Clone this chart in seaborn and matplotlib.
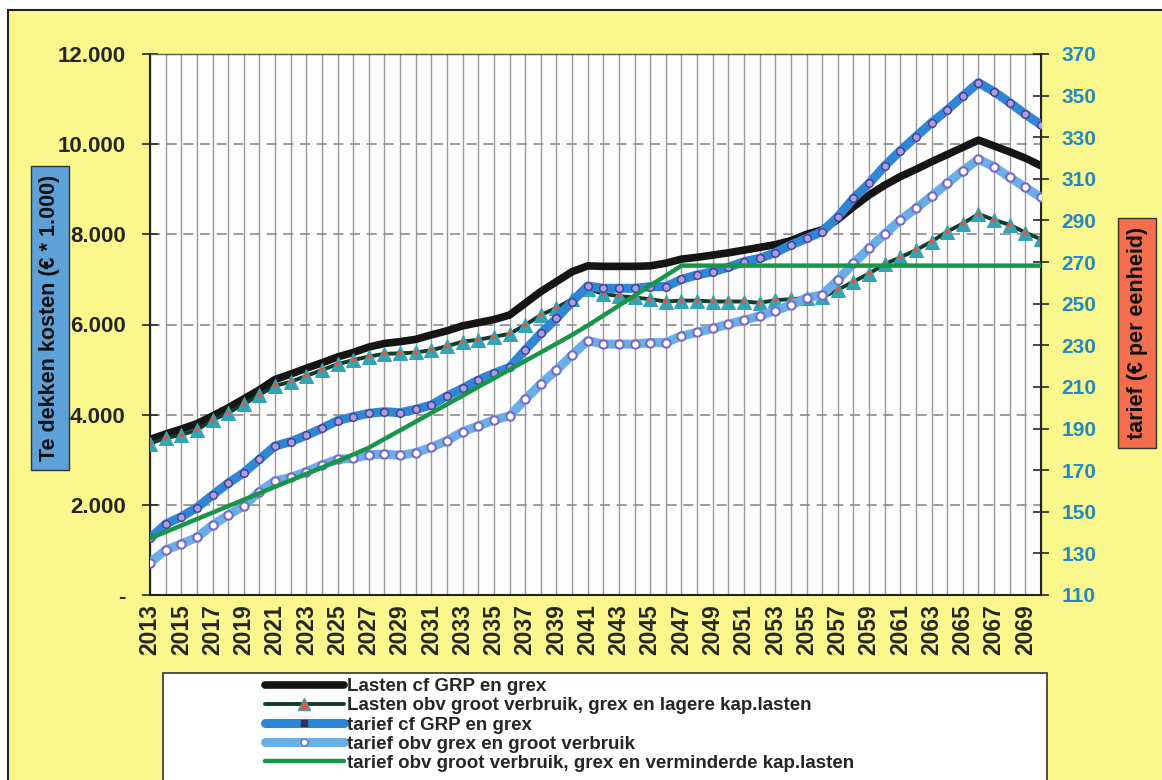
import matplotlib
matplotlib.use('Agg')
import matplotlib.pyplot as plt
from matplotlib.lines import Line2D
from matplotlib.patches import Rectangle
from matplotlib.ticker import FuncFormatter, MultipleLocator
import seaborn as sns
import pandas as pd

sns.set_style('white')
plt.rcParams['font.family'] = ['Liberation Sans', 'DejaVu Sans']
plt.rcParams['font.weight'] = 'bold'

# jaren (categorie-as)
jaren = list(range(2013, 2071))

# linker as: kosten (x 1.000 euro)
lasten_grp = [3450, 3570, 3680, 3800, 3970, 4150, 4350, 4550, 4780, 4900,
              5030, 5150, 5280, 5380, 5500, 5580, 5620, 5670, 5770, 5860,
              5970, 6040, 6110, 6210, 6470, 6730, 6950, 7170, 7300, 7290,
              7290, 7290, 7300, 7360, 7450, 7490, 7540, 7590, 7650, 7710,
              7770, 7860, 8000, 8100, 8330, 8610, 8870, 9090, 9280, 9440,
              9610, 9770, 9930, 10090, 9960, 9830, 9690, 9520]
lasten_groot = [3360, 3480, 3550, 3660, 3880, 4040, 4230, 4440, 4640, 4730,
                4860, 4990, 5120, 5210, 5290, 5350, 5360, 5380, 5430, 5520,
                5620, 5660, 5730, 5790, 5990, 6210, 6370, 6560, 6790, 6680,
                6630, 6600, 6560, 6510, 6530, 6530, 6510, 6510, 6510, 6480,
                6540, 6560, 6590, 6600, 6770, 6950, 7130, 7340, 7490, 7650,
                7840, 8060, 8240, 8450, 8320, 8210, 8040, 7890]

# rechter as: tarief (euro per eenheid)
tarief_grp = [137.2, 144.1, 147.6, 152.0, 158.0, 163.7, 168.8, 175.2, 181.6, 183.7,
              186.7, 190.1, 193.8, 195.7, 197.3, 198.1, 197.6, 199.2, 201.3, 205.6,
              209.3, 213.3, 216.5, 219.4, 227.7, 235.7, 242.9, 251.0, 258.5, 257.4,
              257.4, 257.4, 258.2, 258.2, 261.7, 263.8, 265.4, 267.5, 270.2, 271.8,
              274.5, 278.2, 281.4, 284.6, 291.8, 300.6, 307.8, 316.2, 323.5, 330.3,
              337.0, 343.1, 349.8, 356.2, 351.9, 346.6, 341.1, 335.9]
tarief_grex = [125.5, 131.6, 134.5, 137.7, 143.6, 148.4, 152.8, 159.7, 164.9, 166.5,
               169.3, 172.5, 175.2, 175.7, 177.3, 177.8, 177.1, 178.4, 181.0, 184.2,
               188.5, 191.2, 194.1, 196.0, 204.0, 211.4, 218.1, 225.3, 232.2, 230.6,
               230.6, 230.6, 231.3, 231.3, 234.5, 236.2, 238.1, 240.2, 242.1, 244.1,
               246.6, 249.4, 252.8, 254.2, 261.4, 269.4, 276.6, 283.5, 290.2, 295.8,
               301.7, 307.8, 313.9, 319.4, 315.8, 310.7, 305.9, 301.1]
tarief_verm = [137.2, 140.3, 143.4, 146.5, 149.6, 152.7, 155.8, 158.9, 162.0, 165.1,
               168.2, 171.3, 174.4, 177.5, 180.8, 185.0, 189.1, 193.3, 197.5, 201.6,
               205.8, 210.0, 214.1, 218.3, 222.5, 226.6, 230.8, 235.0, 239.5, 244.3,
               249.1, 253.9, 258.7, 263.5, 268.3, 268.3, 268.3, 268.3, 268.3, 268.3,
               268.3, 268.3, 268.3, 268.3, 268.3, 268.3, 268.3, 268.3, 268.3, 268.3,
               268.3, 268.3, 268.3, 268.3, 268.3, 268.3, 268.3, 268.3]

tarief_ticks = [110, 130, 150, 170, 190, 210, 230, 250, 270, 290, 310, 330, 350, 370]

labels = ['Lasten cf GRP en grex',
          'Lasten obv groot verbruik, grex en lagere kap.lasten',
          'tarief cf GRP en grex',
          'tarief obv grex en groot verbruik',
          'tarief obv groot verbruik, grex en verminderde kap.lasten']

df = pd.DataFrame({'jaar': jaren, 'lasten_grp': lasten_grp, 'lasten_groot': lasten_groot,
                   'tarief_grp': tarief_grp, 'tarief_grex': tarief_grex,
                   'tarief_verm': tarief_verm})

geel = '#faf78c'
zwart = '#151515'
donker = '#143a28'
teal = '#35a3b3'
rood = '#e4553c'
blauw = '#2f86d6'
lichtblauw = '#6aaee8'
groen = '#17964a'
asblauw = '#2389c4'

fig = plt.figure(figsize=(11.62, 7.80), dpi=100)
fig.patch.set_facecolor('white')
achtergrond = Rectangle((8 / 1162, -0.1), 1.0, 1.1 - 10 / 780, transform=fig.transFigure,
                        facecolor=geel, edgecolor='#222222', lw=1.5, zorder=-10)
fig.patches.append(achtergrond)

ax = fig.add_axes([150 / 1162, 1 - 595 / 780, 891 / 1162, 541 / 780])
ax.set_facecolor('#fdfdfd')
ax2 = ax.twinx()

# lasten op linker as
sns.lineplot(data=df, x='jaar', y='lasten_grp', ax=ax, color=zwart, lw=5.5, zorder=3)
sns.lineplot(data=df, x='jaar', y='lasten_groot', ax=ax, color=donker, lw=2.8, zorder=4,
             marker='^', markersize=9.5, markerfacecolor=teal, markeredgecolor=teal)
sns.scatterplot(data=df, x='jaar', y='lasten_groot', ax=ax, color=rood, s=10,
                edgecolor='none', zorder=5)

# tarieven op rechter as
sns.lineplot(data=df, x='jaar', y='tarief_grp', ax=ax2, color=blauw, lw=6.5, zorder=3,
             marker='o', markersize=5.5, markerfacecolor='#a89ee0', markeredgecolor='#4a3a8a',
             markeredgewidth=1.0)
sns.lineplot(data=df, x='jaar', y='tarief_grex', ax=ax2, color=lichtblauw, lw=6.5, zorder=4,
             marker='o', markersize=6, markerfacecolor='white', markeredgecolor='#7a68c8',
             markeredgewidth=1.5)
sns.lineplot(data=df, x='jaar', y='tarief_verm', ax=ax2, color=groen, lw=3.2, zorder=5)

# assen
ax.set_xlim(2013, 2070)
ax.set_ylim(0, 12000)
ax2.set_ylim(110, 370)
ax.set_xlabel('')
ax.set_ylabel('')
ax2.set_ylabel('')

ax.yaxis.set_major_locator(MultipleLocator(2000))
ax.yaxis.set_major_formatter(FuncFormatter(lambda v, p: '-' if v == 0 else f'{v:,.0f}'.replace(',', '.')))
ax2.set_yticks(tarief_ticks)

ax.set_xticks(jaren)
ax.set_xticklabels([str(j) if j % 2 == 1 else '' for j in jaren], rotation=90,
                   fontsize=16.5, fontweight='bold')
ax.tick_params(axis='x', direction='inout', length=9, width=1.2, pad=2)
ax.tick_params(axis='y', direction='inout', length=11, width=1.2, labelsize=16, pad=12)
ax2.tick_params(axis='y', direction='inout', length=11, width=1.2, labelsize=15,
                labelcolor=asblauw, pad=9)
for t in ax.get_yticklabels():
    t.set_fontweight('bold')
for t in ax2.get_yticklabels():
    t.set_fontweight('bold')

ax.grid(axis='x', color='#9a9a9a', lw=1.0, zorder=1)
ax.grid(axis='y', color='#8c8c8c', lw=1.2, ls=(0, (6, 4)), zorder=1)
ax.set_axisbelow(True)

for s in ['left', 'bottom']:
    ax.spines[s].set_color('#222222')
    ax.spines[s].set_linewidth(1.5)
ax.spines['top'].set_color('#555555')
ax.spines['top'].set_linewidth(1.0)
ax2.spines['right'].set_color('#222222')
ax2.spines['right'].set_linewidth(1.5)
for s in ['left', 'bottom', 'top']:
    ax2.spines[s].set_visible(False)

# as-titels in gekleurde kaders
fig.text(50 / 1162, 1 - 318 / 780, 'Te dekken kosten (€ * 1.000)', rotation=90,
         ha='center', va='center', fontsize=15.5, fontweight='bold', color='#111111',
         bbox=dict(boxstyle='square,pad=0.4', facecolor='#5ea0d8', edgecolor='#333333', lw=1))
fig.text(1137 / 1162, 1 - 333 / 780, 'tarief (€ per eenheid)', rotation=90,
         ha='center', va='center', fontsize=15.5, fontweight='bold', color='#111111',
         bbox=dict(boxstyle='square,pad=0.4', facecolor='#f26e4c', edgecolor='#333333', lw=1))

# legenda
kader = Rectangle((163 / 1162, -0.05), (1047 - 163) / 1162, 0.05 + 1 - 673 / 780,
                  transform=fig.transFigure, facecolor='white',
                  edgecolor='#333333', lw=1.2, zorder=1)
fig.patches.append(kader)
h1 = Line2D([], [], color=zwart, lw=5.5)
h2 = Line2D([], [], color=donker, lw=2.8, marker='^', markersize=8,
            markerfacecolor=rood, markeredgecolor=teal)
h3 = Line2D([], [], color=blauw, lw=6.5, marker='s', markersize=5,
            markerfacecolor='#333355', markeredgecolor='#333355')
h4 = Line2D([], [], color=lichtblauw, lw=6.5, marker='o', markersize=5,
            markerfacecolor='white', markeredgecolor='#7a68c8')
h5 = Line2D([], [], color=groen, lw=3.2)
leg = fig.legend([h1, h2, h3, h4, h5], labels, loc='upper left',
                 bbox_to_anchor=(265 / 1162, 1 - 678 / 780), frameon=False,
                 fontsize=13.5, handlelength=4.2, handletextpad=0.15, labelspacing=0.11,
                 borderpad=0, borderaxespad=0)
leg.set_zorder(5)
for t in leg.get_texts():
    t.set_fontweight('bold')

fig.savefig('out.png', dpi=100, facecolor=fig.get_facecolor())
